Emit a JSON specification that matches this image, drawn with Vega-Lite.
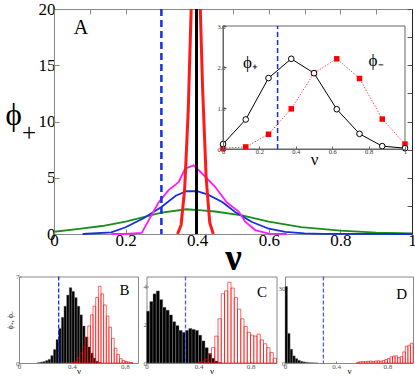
{
  "$schema": "https://vega.github.io/schema/vega-lite/v6.json",
  "padding": {"left": 5, "top": 0, "right": 0, "bottom": 0},
  "background": "white",
  "config": {
    "view": {"stroke": null},
    "font": "Liberation Serif",
    "axis": {"grid": false, "labelFont": "Liberation Serif", "titleFont": "Liberation Serif", "titleFontWeight": "normal", "labelFlush": false, "labelOverlap": false}
  },
  "datasets": {
    "curves": [
      {"s": "green", "nu": 0, "phi": 0.2}, {"s": "green", "nu": 0.07, "phi": 0.45}, {"s": "green", "nu": 0.134, "phi": 0.71}, {"s": "green", "nu": 0.2, "phi": 1.1}, {"s": "green", "nu": 0.25, "phi": 1.5}, {"s": "green", "nu": 0.3, "phi": 1.9}, {"s": "green", "nu": 0.37, "phi": 2.2}, {"s": "green", "nu": 0.413, "phi": 2.1}, {"s": "green", "nu": 0.45, "phi": 2.0}, {"s": "green", "nu": 0.525, "phi": 1.66}, {"s": "green", "nu": 0.6, "phi": 1.1}, {"s": "green", "nu": 0.69, "phi": 0.62}, {"s": "green", "nu": 0.8, "phi": 0.3}, {"s": "green", "nu": 0.9, "phi": 0.12}, {"s": "green", "nu": 1.0, "phi": 0.05},
      {"s": "blue", "nu": 0.08, "phi": 0}, {"s": "blue", "nu": 0.16, "phi": 0.15}, {"s": "blue", "nu": 0.2, "phi": 0.6}, {"s": "blue", "nu": 0.25, "phi": 1.4}, {"s": "blue", "nu": 0.3, "phi": 2.4}, {"s": "blue", "nu": 0.34, "phi": 3.4}, {"s": "blue", "nu": 0.37, "phi": 3.8}, {"s": "blue", "nu": 0.4, "phi": 3.8}, {"s": "blue", "nu": 0.43, "phi": 3.5}, {"s": "blue", "nu": 0.47, "phi": 2.85}, {"s": "blue", "nu": 0.506, "phi": 1.96}, {"s": "blue", "nu": 0.553, "phi": 1.07}, {"s": "blue", "nu": 0.6, "phi": 0.47}, {"s": "blue", "nu": 0.646, "phi": 0.18}, {"s": "blue", "nu": 0.7, "phi": 0.05}, {"s": "blue", "nu": 0.75, "phi": 0.01}, {"s": "blue", "nu": 1, "phi": 0},
      {"s": "magenta", "nu": 0.16, "phi": 0}, {"s": "magenta", "nu": 0.2, "phi": 0.02}, {"s": "magenta", "nu": 0.245, "phi": 0.1}, {"s": "magenta", "nu": 0.292, "phi": 2.8}, {"s": "magenta", "nu": 0.32, "phi": 3.9}, {"s": "magenta", "nu": 0.348, "phi": 4.6}, {"s": "magenta", "nu": 0.366, "phi": 5.8}, {"s": "magenta", "nu": 0.39, "phi": 6.1}, {"s": "magenta", "nu": 0.413, "phi": 5.4}, {"s": "magenta", "nu": 0.45, "phi": 4.2}, {"s": "magenta", "nu": 0.483, "phi": 2.8}, {"s": "magenta", "nu": 0.516, "phi": 2.0}, {"s": "magenta", "nu": 0.534, "phi": 1.1}, {"s": "magenta", "nu": 0.562, "phi": 0.35}, {"s": "magenta", "nu": 0.6, "phi": 0.03}, {"s": "magenta", "nu": 0.65, "phi": 0},
      {"s": "red", "nu": 0.345, "phi": 0}, {"s": "red", "nu": 0.355, "phi": 0.8}, {"s": "red", "nu": 0.365, "phi": 4}, {"s": "red", "nu": 0.375, "phi": 11}, {"s": "red", "nu": 0.385, "phi": 22}, {"s": "red", "nu": 0.395, "phi": 30}, {"s": "red", "nu": 0.405, "phi": 24}, {"s": "red", "nu": 0.415, "phi": 13}, {"s": "red", "nu": 0.425, "phi": 5}, {"s": "red", "nu": 0.435, "phi": 1}, {"s": "red", "nu": 0.445, "phi": 0}
    ],
    "inset": [
      {"s": "plus", "nu": 0, "phi": 0.12}, {"s": "plus", "nu": 0.125, "phi": 0.72}, {"s": "plus", "nu": 0.25, "phi": 1.73}, {"s": "plus", "nu": 0.375, "phi": 2.2}, {"s": "plus", "nu": 0.5, "phi": 1.85}, {"s": "plus", "nu": 0.625, "phi": 0.97}, {"s": "plus", "nu": 0.75, "phi": 0.37}, {"s": "plus", "nu": 0.875, "phi": 0.07}, {"s": "plus", "nu": 1, "phi": 0.02},
      {"s": "minus", "nu": 0, "phi": 0.02}, {"s": "minus", "nu": 0.125, "phi": 0.05}, {"s": "minus", "nu": 0.25, "phi": 0.36}, {"s": "minus", "nu": 0.375, "phi": 0.98}, {"s": "minus", "nu": 0.5, "phi": 1.85}, {"s": "minus", "nu": 0.625, "phi": 2.2}, {"s": "minus", "nu": 0.75, "phi": 1.72}, {"s": "minus", "nu": 0.875, "phi": 0.73}, {"s": "minus", "nu": 1, "phi": 0.12}
    ],
    "Bp": [
      {"lo": 0.14, "hi": 0.16, "v": 0.05}, {"lo": 0.16, "hi": 0.18, "v": 0.08}, {"lo": 0.18, "hi": 0.2, "v": 0.12}, {"lo": 0.2, "hi": 0.22, "v": 0.2}, {"lo": 0.22, "hi": 0.24, "v": 0.3}, {"lo": 0.24, "hi": 0.26, "v": 0.6}, {"lo": 0.26, "hi": 0.28, "v": 1.1}, {"lo": 0.28, "hi": 0.3, "v": 1.9}, {"lo": 0.3, "hi": 0.32, "v": 2.8}, {"lo": 0.32, "hi": 0.34, "v": 3.7}, {"lo": 0.34, "hi": 0.36, "v": 4.6}, {"lo": 0.36, "hi": 0.38, "v": 5.5}, {"lo": 0.38, "hi": 0.4, "v": 6.1}, {"lo": 0.4, "hi": 0.42, "v": 5.8}, {"lo": 0.42, "hi": 0.44, "v": 5.3}, {"lo": 0.44, "hi": 0.46, "v": 4.6}, {"lo": 0.46, "hi": 0.48, "v": 3.9}, {"lo": 0.48, "hi": 0.5, "v": 3.0}, {"lo": 0.5, "hi": 0.52, "v": 2.1}, {"lo": 0.52, "hi": 0.54, "v": 1.3}, {"lo": 0.54, "hi": 0.56, "v": 0.8}, {"lo": 0.56, "hi": 0.58, "v": 0.4}, {"lo": 0.58, "hi": 0.6, "v": 0.15}, {"lo": 0.6, "hi": 0.62, "v": 0.05}
    ],
    "Bm": [
      {"lo": 0.4, "hi": 0.42, "v": 0.05}, {"lo": 0.42, "hi": 0.44, "v": 0.15}, {"lo": 0.44, "hi": 0.46, "v": 0.4}, {"lo": 0.46, "hi": 0.48, "v": 0.8}, {"lo": 0.48, "hi": 0.5, "v": 1.3}, {"lo": 0.5, "hi": 0.52, "v": 2.1}, {"lo": 0.52, "hi": 0.54, "v": 3.0}, {"lo": 0.54, "hi": 0.56, "v": 3.9}, {"lo": 0.56, "hi": 0.58, "v": 4.6}, {"lo": 0.58, "hi": 0.6, "v": 5.3}, {"lo": 0.6, "hi": 0.62, "v": 6.2}, {"lo": 0.62, "hi": 0.64, "v": 5.6}, {"lo": 0.64, "hi": 0.66, "v": 4.7}, {"lo": 0.66, "hi": 0.68, "v": 3.8}, {"lo": 0.68, "hi": 0.7, "v": 2.9}, {"lo": 0.7, "hi": 0.72, "v": 2.0}, {"lo": 0.72, "hi": 0.74, "v": 1.2}, {"lo": 0.74, "hi": 0.76, "v": 0.7}, {"lo": 0.76, "hi": 0.78, "v": 0.35}, {"lo": 0.78, "hi": 0.8, "v": 0.2}, {"lo": 0.8, "hi": 0.82, "v": 0.12}, {"lo": 0.82, "hi": 0.84, "v": 0.08}, {"lo": 0.84, "hi": 0.86, "v": 0.04}
    ],
    "Cp": [
      {"lo": 0, "hi": 0.025, "v": 2.7}, {"lo": 0.025, "hi": 0.05, "v": 3.2}, {"lo": 0.05, "hi": 0.075, "v": 3.6}, {"lo": 0.075, "hi": 0.1, "v": 3.75}, {"lo": 0.1, "hi": 0.125, "v": 3.3}, {"lo": 0.125, "hi": 0.15, "v": 2.9}, {"lo": 0.15, "hi": 0.175, "v": 2.75}, {"lo": 0.175, "hi": 0.2, "v": 2.5}, {"lo": 0.2, "hi": 0.225, "v": 2.15}, {"lo": 0.225, "hi": 0.25, "v": 1.95}, {"lo": 0.25, "hi": 0.275, "v": 1.7}, {"lo": 0.275, "hi": 0.3, "v": 1.6}, {"lo": 0.3, "hi": 0.325, "v": 1.7}, {"lo": 0.325, "hi": 0.35, "v": 1.8}, {"lo": 0.35, "hi": 0.375, "v": 1.75}, {"lo": 0.375, "hi": 0.4, "v": 1.7}, {"lo": 0.4, "hi": 0.425, "v": 1.45}, {"lo": 0.425, "hi": 0.45, "v": 1.15}, {"lo": 0.45, "hi": 0.475, "v": 0.8}, {"lo": 0.475, "hi": 0.5, "v": 0.5}, {"lo": 0.5, "hi": 0.525, "v": 0.25}, {"lo": 0.525, "hi": 0.55, "v": 0.1}, {"lo": 0.55, "hi": 0.575, "v": 0.03}
    ],
    "Cm": [
      {"lo": 0.4, "hi": 0.425, "v": 0.05}, {"lo": 0.425, "hi": 0.45, "v": 0.1}, {"lo": 0.45, "hi": 0.475, "v": 0.2}, {"lo": 0.475, "hi": 0.5, "v": 0.45}, {"lo": 0.5, "hi": 0.525, "v": 0.8}, {"lo": 0.525, "hi": 0.55, "v": 1.4}, {"lo": 0.55, "hi": 0.575, "v": 2.3}, {"lo": 0.575, "hi": 0.6, "v": 3.6}, {"lo": 0.6, "hi": 0.625, "v": 3.75}, {"lo": 0.625, "hi": 0.65, "v": 4.2}, {"lo": 0.65, "hi": 0.675, "v": 3.9}, {"lo": 0.675, "hi": 0.7, "v": 3.4}, {"lo": 0.7, "hi": 0.725, "v": 2.8}, {"lo": 0.725, "hi": 0.75, "v": 2.3}, {"lo": 0.75, "hi": 0.775, "v": 1.9}, {"lo": 0.775, "hi": 0.8, "v": 1.6}, {"lo": 0.8, "hi": 0.825, "v": 1.45}, {"lo": 0.825, "hi": 0.85, "v": 1.4}, {"lo": 0.85, "hi": 0.875, "v": 1.5}, {"lo": 0.875, "hi": 0.9, "v": 1.2}, {"lo": 0.9, "hi": 0.925, "v": 1.0}, {"lo": 0.925, "hi": 0.95, "v": 0.8}, {"lo": 0.95, "hi": 0.975, "v": 0.55}, {"lo": 0.975, "hi": 1.0, "v": 0.25}
    ],
    "Dp": [
      {"lo": 0, "hi": 0.02, "v": 31}, {"lo": 0.02, "hi": 0.04, "v": 12}, {"lo": 0.04, "hi": 0.06, "v": 5.6}, {"lo": 0.06, "hi": 0.08, "v": 2.9}, {"lo": 0.08, "hi": 0.1, "v": 1.8}, {"lo": 0.1, "hi": 0.12, "v": 1.1}, {"lo": 0.12, "hi": 0.14, "v": 0.7}, {"lo": 0.14, "hi": 0.16, "v": 0.45}, {"lo": 0.16, "hi": 0.18, "v": 0.3}, {"lo": 0.18, "hi": 0.2, "v": 0.2}, {"lo": 0.2, "hi": 0.22, "v": 0.12}, {"lo": 0.22, "hi": 0.24, "v": 0.07}, {"lo": 0.24, "hi": 0.26, "v": 0.04}
    ],
    "Dm": [
      {"lo": 0.56, "hi": 0.58, "v": 0.3}, {"lo": 0.58, "hi": 0.6, "v": 0.5}, {"lo": 0.6, "hi": 0.62, "v": 0.6}, {"lo": 0.62, "hi": 0.64, "v": 0.5}, {"lo": 0.64, "hi": 0.66, "v": 0.7}, {"lo": 0.66, "hi": 0.68, "v": 0.8}, {"lo": 0.68, "hi": 0.7, "v": 0.6}, {"lo": 0.7, "hi": 0.72, "v": 0.8}, {"lo": 0.72, "hi": 0.74, "v": 0.9}, {"lo": 0.74, "hi": 0.76, "v": 0.7}, {"lo": 0.76, "hi": 0.78, "v": 1.0}, {"lo": 0.78, "hi": 0.8, "v": 1.4}, {"lo": 0.8, "hi": 0.82, "v": 1.8}, {"lo": 0.82, "hi": 0.84, "v": 2.5}, {"lo": 0.84, "hi": 0.86, "v": 2.8}, {"lo": 0.86, "hi": 0.88, "v": 2.9}, {"lo": 0.88, "hi": 0.9, "v": 2.2}, {"lo": 0.9, "hi": 0.92, "v": 2.6}, {"lo": 0.92, "hi": 0.94, "v": 4.5}, {"lo": 0.94, "hi": 0.96, "v": 6.8}, {"lo": 0.96, "hi": 0.98, "v": 7.2}, {"lo": 0.98, "hi": 1.0, "v": 8.0}
    ]
  },
  "vconcat": [
    {
      "width": 393,
      "height": 225,
      "layer": [
        {
          "layer": [
            {
              "data": {"name": "curves"},
              "transform": [{"filter": "datum.s === 'green'"}],
              "mark": {"type": "line", "color": "#1c8c1c", "strokeWidth": 1.8},
              "encoding": {
                "x": {"field": "nu", "type": "quantitative", "scale": {"domain": [0, 1], "range": [35, 393]},
                  "axis": {"orient": "bottom", "values": [0, 0.1, 0.2, 0.3, 0.4, 0.5, 0.6, 0.7, 0.8, 0.9, 1], "labelExpr": "round(datum.value*10)%2 ? '' : datum.label", "format": "~g", "labelFontSize": 17, "labelColor": "#000", "labelPadding": 3, "tickSize": -5, "tickColor": "#888", "domainColor": "#888", "title": "ν", "titleFontSize": 37, "titleFontWeight": "bold", "titleX": 214, "titleY": 35, "titleBaseline": "alphabetic", "titleAlign": "center"}},
                "y": {"field": "phi", "type": "quantitative", "scale": {"domain": [0, 20]},
                  "axis": {"orient": "left", "offset": -35, "values": [0, 2.5, 5, 7.5, 10, 12.5, 15, 17.5, 20], "labelExpr": "datum.value % 5 ? '' : datum.label", "labelFontSize": 17, "labelColor": "#000", "labelPadding": 4, "tickSize": -5, "tickColor": "#888", "domainColor": "#888", "title": "ϕ", "titleFontSize": 31, "titleAngle": 0, "titleAlign": "left", "titleBaseline": "alphabetic", "titleX": -49, "titleY": 115}}
              }
            },
            {
              "data": {"name": "curves"},
              "transform": [{"filter": "datum.s === 'blue'"}],
              "mark": {"type": "line", "color": "#1530e0", "strokeWidth": 1.8},
              "encoding": {"x": {"field": "nu", "type": "quantitative"}, "y": {"field": "phi", "type": "quantitative"}}
            },
            {
              "data": {"name": "curves"},
              "transform": [{"filter": "datum.s === 'magenta'"}],
              "mark": {"type": "line", "color": "#ff1aff", "strokeWidth": 1.8},
              "encoding": {"x": {"field": "nu", "type": "quantitative"}, "y": {"field": "phi", "type": "quantitative"}}
            },
            {
              "data": {"name": "curves"},
              "transform": [{"filter": "datum.s === 'red'"}],
              "mark": {"type": "line", "color": "#ff1a1a", "strokeWidth": 3, "clip": true},
              "encoding": {"x": {"field": "nu", "type": "quantitative"}, "y": {"field": "phi", "type": "quantitative"}}
            },
            {
              "data": {"values": [{"nu": 0.3}]},
              "mark": {"type": "rule", "color": "#1530e0", "strokeWidth": 2.5, "strokeDash": [7, 4]},
              "encoding": {"x": {"field": "nu", "type": "quantitative"}}
            },
            {
              "data": {"values": [{"nu": 0.055, "phi": 18.3, "t": "A"}]},
              "mark": {"type": "text", "fontSize": 20, "align": "left", "baseline": "middle", "font": "Liberation Serif"},
              "encoding": {"x": {"field": "nu", "type": "quantitative"}, "y": {"field": "phi", "type": "quantitative"}, "text": {"field": "t"}}
            },
            {
              "data": {"values": [{"nu": -0.07, "phi": 9.0, "t": "+"}]},
              "mark": {"type": "text", "fontSize": 25, "align": "center", "baseline": "middle", "font": "Liberation Serif", "clip": false},
              "encoding": {"x": {"field": "nu", "type": "quantitative"}, "y": {"field": "phi", "type": "quantitative"}, "text": {"field": "t"}}
            }
          ]
        },
        {
          "layer": [
            {
              "data": {"values": [{"nu": 0.398}]},
              "mark": {"type": "rule", "color": "black", "strokeWidth": 3},
              "encoding": {
                "x": {"field": "nu", "type": "quantitative", "scale": {"domain": [0, 1], "range": [35, 393]},
                  "axis": {"orient": "top", "values": [0, 0.1, 0.2, 0.3, 0.4, 0.5, 0.6, 0.7, 0.8, 0.9, 1], "labels": false, "tickSize": -5, "tickColor": "#888", "domainColor": "#888", "title": null}},
                "y": {"datum": 0, "type": "quantitative", "scale": {"domain": [0, 20]},
                  "axis": {"orient": "right", "values": [0, 2.5, 5, 7.5, 10, 12.5, 15, 17.5, 20], "labels": false, "tickSize": -5, "tickColor": "#555", "domainColor": "#222", "title": null}},
                "y2": {"datum": 20}
              }
            }
          ]
        },
        {
          "layer": [
            {
              "data": {"values": [{"nu": 0, "nu2": 1, "phi": 0, "phi2": 3}]},
              "mark": {"type": "rect", "fill": "white", "stroke": "#666", "strokeWidth": 1},
              "encoding": {
                "x": {"field": "nu", "type": "quantitative", "scale": {"domain": [0, 1], "range": [204, 386]},
                  "axis": {"orient": "bottom", "offset": -85, "zindex": 1, "values": [0, 0.2, 0.4, 0.6, 0.8, 1], "format": "~g", "labelFontSize": 6.5, "labelColor": "#333", "labelPadding": 2, "tickSize": -3, "tickColor": "#666", "domainColor": "#666", "title": "ν", "titleFontSize": 17, "titleY": 15, "titleBaseline": "alphabetic"}},
                "x2": {"field": "nu2"},
                "y": {"field": "phi", "type": "quantitative", "scale": {"domain": [0, 3], "range": [140, 17]},
                  "axis": {"orient": "left", "offset": -204, "zindex": 1, "values": [0, 0.5, 1, 1.5, 2, 2.5, 3], "format": ".1f", "labelFontSize": 6.5, "labelColor": "#333", "labelPadding": 1, "tickSize": -3, "tickColor": "#666", "domainColor": "#666", "title": null}},
                "y2": {"field": "phi2"}
              }
            },
            {
              "data": {"values": [{"nu": 0.3}]},
              "mark": {"type": "rule", "color": "#1530e0", "strokeWidth": 1.5, "strokeDash": [5, 3]},
              "encoding": {"x": {"field": "nu", "type": "quantitative"}, "y": {"datum": 0, "type": "quantitative"}, "y2": {"datum": 3}}
            },
            {
              "data": {"name": "inset"},
              "transform": [{"filter": "datum.s === 'minus'"}],
              "mark": {"type": "line", "color": "#ff5050", "strokeWidth": 1, "strokeDash": [1.5, 1.5]},
              "encoding": {"x": {"field": "nu", "type": "quantitative"}, "y": {"field": "phi", "type": "quantitative"}}
            },
            {
              "data": {"name": "inset"},
              "transform": [{"filter": "datum.s === 'minus'"}],
              "mark": {"type": "point", "shape": "square", "filled": true, "color": "#ff0000", "size": 30, "opacity": 1},
              "encoding": {"x": {"field": "nu", "type": "quantitative"}, "y": {"field": "phi", "type": "quantitative"}}
            },
            {
              "data": {"name": "inset"},
              "transform": [{"filter": "datum.s === 'plus'"}],
              "mark": {"type": "line", "color": "black", "strokeWidth": 1},
              "encoding": {"x": {"field": "nu", "type": "quantitative"}, "y": {"field": "phi", "type": "quantitative"}}
            },
            {
              "data": {"name": "inset"},
              "transform": [{"filter": "datum.s === 'plus'"}],
              "mark": {"type": "point", "shape": "circle", "filled": false, "fill": "white", "fillOpacity": 1, "stroke": "black", "strokeWidth": 1, "size": 32, "opacity": 1},
              "encoding": {"x": {"field": "nu", "type": "quantitative"}, "y": {"field": "phi", "type": "quantitative"}}
            },
            {
              "data": {"values": [{"nu": 0.11, "phi": 2.1, "t": "ϕ₊"}, {"nu": 0.8, "phi": 2.15, "t": "ϕ₋"}]},
              "mark": {"type": "text", "fontSize": 17, "align": "left", "baseline": "middle", "font": "Liberation Serif"},
              "encoding": {"x": {"field": "nu", "type": "quantitative"}, "y": {"field": "phi", "type": "quantitative"}, "text": {"field": "t"}}
            }
          ]
        }
      ],
      "resolve": {"scale": {"x": "independent", "y": "independent"}}
    },
    {
      "hconcat": [
        {
          "width": 119,
          "height": 86.5,
          "view": {"stroke": "#888"},
          "layer": [
            {
              "data": {"name": "Bp"},
              "mark": {"type": "bar", "fill": "black", "stroke": "#888", "strokeWidth": 0.4},
              "encoding": {
                "x": {"field": "lo", "type": "quantitative", "scale": {"domain": [0, 0.9]}, "axis": {"values": [0, 0.2, 0.4, 0.6, 0.8], "format": "~g", "labelFontSize": 7, "labelColor": "#555", "labelPadding": 1, "tickSize": -2, "tickColor": "#888", "domain": false, "title": "ν", "titleFontSize": 9, "titlePadding": -3}},
                "x2": {"field": "hi"},
                "y": {"field": "v", "type": "quantitative", "scale": {"domain": [0, 7]}, "axis": {"values": [0, 1, 2, 3, 4, 5, 6, 7], "labelFontSize": 7, "labelColor": "#555", "labelPadding": 2, "tickSize": -2, "tickColor": "#888", "domain": false, "title": "ϕ₊, ϕ₋", "titleFontSize": 8, "titlePadding": 1}},
                "y2": {"datum": 0}
              }
            },
            {
              "data": {"name": "Bm"},
              "mark": {"type": "bar", "fill": "white", "fillOpacity": 0, "stroke": "#ff0000", "strokeOpacity": 0.6, "strokeWidth": 1},
              "encoding": {"x": {"field": "lo", "type": "quantitative"}, "x2": {"field": "hi"}, "y": {"field": "v", "type": "quantitative"}, "y2": {"datum": 0}}
            },
            {
              "data": {"values": [{"lo": 0.3}]},
              "mark": {"type": "rule", "color": "#1a2ee8", "strokeWidth": 1.3, "strokeDash": [4, 2]},
              "encoding": {"x": {"field": "lo", "type": "quantitative"}}
            },
            {
              "data": {"values": [{"lo": 0.76, "v": 5.9, "t": "B"}]},
              "mark": {"type": "text", "fontSize": 15, "align": "left", "baseline": "middle", "font": "Liberation Serif"},
              "encoding": {"x": {"field": "lo", "type": "quantitative"}, "y": {"field": "v", "type": "quantitative"}, "text": {"field": "t"}}
            }
          ]
        },
        {
          "width": 130,
          "height": 86.5,
          "view": {"stroke": "#888"},
          "layer": [
            {
              "data": {"name": "Cp"},
              "mark": {"type": "bar", "fill": "black", "stroke": "#888", "strokeWidth": 0.4},
              "encoding": {
                "x": {"field": "lo", "type": "quantitative", "scale": {"domain": [0, 1]}, "axis": {"values": [0, 0.2, 0.4, 0.6, 0.8, 1], "format": "~g", "labelFontSize": 7, "labelColor": "#555", "labelPadding": 1, "tickSize": -2, "tickColor": "#888", "domain": false, "title": "ν", "titleFontSize": 9, "titlePadding": -3}},
                "x2": {"field": "hi"},
                "y": {"field": "v", "type": "quantitative", "scale": {"domain": [0, 4.35]}, "axis": {"values": [0, 1, 2, 3, 4], "labelFontSize": 7, "labelColor": "#555", "labelPadding": 2, "tickSize": -2, "tickColor": "#888", "domain": false, "title": null}},
                "y2": {"datum": 0}
              }
            },
            {
              "data": {"name": "Cm"},
              "mark": {"type": "bar", "fill": "white", "fillOpacity": 0, "stroke": "#ff0000", "strokeOpacity": 0.6, "strokeWidth": 1},
              "encoding": {"x": {"field": "lo", "type": "quantitative"}, "x2": {"field": "hi"}, "y": {"field": "v", "type": "quantitative"}, "y2": {"datum": 0}}
            },
            {
              "data": {"values": [{"lo": 0.3}]},
              "mark": {"type": "rule", "color": "#4a5cf0", "strokeWidth": 1.3, "strokeDash": [4, 2]},
              "encoding": {"x": {"field": "lo", "type": "quantitative"}}
            },
            {
              "data": {"values": [{"lo": 0.85, "v": 3.7, "t": "C"}]},
              "mark": {"type": "text", "fontSize": 15, "align": "left", "baseline": "middle", "font": "Liberation Serif"},
              "encoding": {"x": {"field": "lo", "type": "quantitative"}, "y": {"field": "v", "type": "quantitative"}, "text": {"field": "t"}}
            }
          ]
        },
        {
          "width": 128,
          "height": 86.5,
          "view": {"stroke": "#888"},
          "layer": [
            {
              "data": {"name": "Dp"},
              "mark": {"type": "bar", "fill": "black", "stroke": "#888", "strokeWidth": 0.4},
              "encoding": {
                "x": {"field": "lo", "type": "quantitative", "scale": {"domain": [0, 1]}, "axis": {"values": [0, 0.2, 0.4, 0.6, 0.8, 1], "format": "~g", "labelFontSize": 7, "labelColor": "#555", "labelPadding": 1, "tickSize": -2, "tickColor": "#888", "domain": false, "title": "ν", "titleFontSize": 9, "titlePadding": -3}},
                "x2": {"field": "hi"},
                "y": {"field": "v", "type": "quantitative", "scale": {"domain": [0, 31]}, "axis": {"values": [0, 10, 20, 30], "labelFontSize": 7, "labelColor": "#555", "labelPadding": 2, "tickSize": -2, "tickColor": "#888", "domain": false, "title": null}},
                "y2": {"datum": 0}
              }
            },
            {
              "data": {"name": "Dm"},
              "mark": {"type": "bar", "fill": "white", "fillOpacity": 0, "stroke": "#ff0000", "strokeOpacity": 0.6, "strokeWidth": 1},
              "encoding": {"x": {"field": "lo", "type": "quantitative"}, "x2": {"field": "hi"}, "y": {"field": "v", "type": "quantitative"}, "y2": {"datum": 0}}
            },
            {
              "data": {"values": [{"lo": 0.3}]},
              "mark": {"type": "rule", "color": "#4a5cf0", "strokeWidth": 1.3, "strokeDash": [4, 2]},
              "encoding": {"x": {"field": "lo", "type": "quantitative"}}
            },
            {
              "data": {"values": [{"lo": 0.87, "v": 28, "t": "D"}]},
              "mark": {"type": "text", "fontSize": 15, "align": "left", "baseline": "middle", "font": "Liberation Serif"},
              "encoding": {"x": {"field": "lo", "type": "quantitative"}, "y": {"field": "v", "type": "quantitative"}, "text": {"field": "t"}}
            }
          ]
        }
      ],
      "spacing": 8.5,
      "bounds": "flush"
    }
  ],
  "spacing": 42.5,
  "bounds": "flush"
}
